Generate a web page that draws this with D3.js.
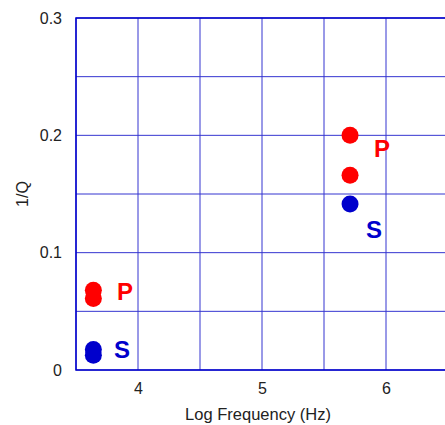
<!DOCTYPE html>
<html>
<head>
<meta charset="utf-8">
<script src="https://cdn.jsdelivr.net/npm/d3@7"></script>
<style>
  body { margin: 0; background: #fff; }
  text { font-family: "Liberation Sans", Arial, sans-serif; }
</style>
</head>
<body>
<div class="canvas"></div>
<script>
// data
const logFreq = [3.64, 3.64, 3.64, 3.64, 5.71, 5.71, 5.71];
const invQ = [0.068, 0.061, 0.0175, 0.0125, 0.2, 0.166, 0.1415];
const wave = ["P", "P", "S", "S", "P", "P", "S"];

// P / S labels (x position = text centre, y = baseline)
const labelText = ["P", "S", "P", "S"];
const labelX = [3.895, 3.871, 5.968, 5.903];
const labelY = [0.0597, 0.0102, 0.1815, 0.1125];

const xTicks = [4, 5, 6];
const yTicks = [0, 0.1, 0.2, 0.3];

const dims = { width: 445, height: 425 };
const margin = { left: 76, top: 18, bottom: 55 };

const colour = { P: "#ff0000", S: "#0000cc" };

const svg = d3
  .select(".canvas")
  .append("svg")
  .attr("width", dims.width)
  .attr("height", dims.height);

const x = d3.scaleLinear().domain([3.5, 6.5]).range([margin.left, 448]);
const y = d3
  .scaleLinear()
  .domain([0, 0.3])
  .range([dims.height - margin.bottom, margin.top]);

// grid every 0.5 / 0.05
const grid = svg.append("g");
grid
  .selectAll("line.v")
  .data(d3.range(3.5, 6.51, 0.5))
  .enter()
  .append("line")
  .attr("x1", (d) => x(d))
  .attr("x2", (d) => x(d))
  .attr("y1", y(0))
  .attr("y2", y(0.3))
  .attr("stroke", "#3535d0")
  .attr("stroke-width", 1);

grid
  .selectAll("line.h")
  .data(d3.range(0, 0.301, 0.05))
  .enter()
  .append("line")
  .attr("x1", x(3.5))
  .attr("x2", x(6.5))
  .attr("y1", (d) => y(d))
  .attr("y2", (d) => y(d))
  .attr("stroke", "#3535d0")
  .attr("stroke-width", 1);

// frame
svg
  .append("rect")
  .attr("x", x(3.5))
  .attr("y", y(0.3))
  .attr("width", x(6.5) - x(3.5))
  .attr("height", y(0) - y(0.3))
  .attr("fill", "none")
  .attr("stroke", "#0000cc")
  .attr("stroke-width", 1.5);

// axes (labels only)
const xAxis = svg
  .append("g")
  .attr("transform", `translate(0, ${y(0)})`)
  .call(d3.axisBottom(x).tickValues(xTicks).tickSize(0).tickPadding(13).tickFormat(d3.format("d")));
const yAxis = svg
  .append("g")
  .attr("transform", `translate(${x(3.5)}, 0)`)
  .call(
    d3
      .axisLeft(y)
      .tickValues(yTicks)
      .tickSize(0)
      .tickPadding(14)
      .tickFormat((d) => (d === 0 ? "0" : d3.format(".1f")(d)))
  );

[xAxis, yAxis].forEach((a) => {
  a.select(".domain").remove();
  a.attr("font-size", 16).attr("font-family", "Liberation Sans, Arial, sans-serif");
  a.selectAll("text").attr("fill", "#222");
});

svg
  .append("text")
  .text("Log Frequency (Hz)")
  .attr("x", 258)
  .attr("y", 420)
  .attr("text-anchor", "middle")
  .attr("font-size", 16.5)
  .attr("fill", "#222");

svg
  .append("text")
  .text("1/Q")
  .attr("transform", `translate(28, ${y(0.15)}) rotate(-90)`)
  .attr("text-anchor", "middle")
  .attr("font-size", 16)
  .attr("fill", "#222");

// points
svg
  .selectAll("circle.pt")
  .data(logFreq)
  .enter()
  .append("circle")
  .attr("class", "pt")
  .attr("cx", (d) => x(d))
  .attr("cy", (d, i) => y(invQ[i]))
  .attr("r", 8.5)
  .attr("fill", (d, i) => colour[wave[i]]);

// P / S labels
svg
  .selectAll("text.lab")
  .data(labelText)
  .enter()
  .append("text")
  .attr("class", "lab")
  .text((d) => d)
  .attr("x", (d, i) => x(labelX[i]))
  .attr("y", (d, i) => y(labelY[i]))
  .attr("text-anchor", "middle")
  .attr("font-size", 24)
  .attr("font-weight", "bold")
  .attr("fill", (d) => colour[d]);
</script>
</body>
</html>
